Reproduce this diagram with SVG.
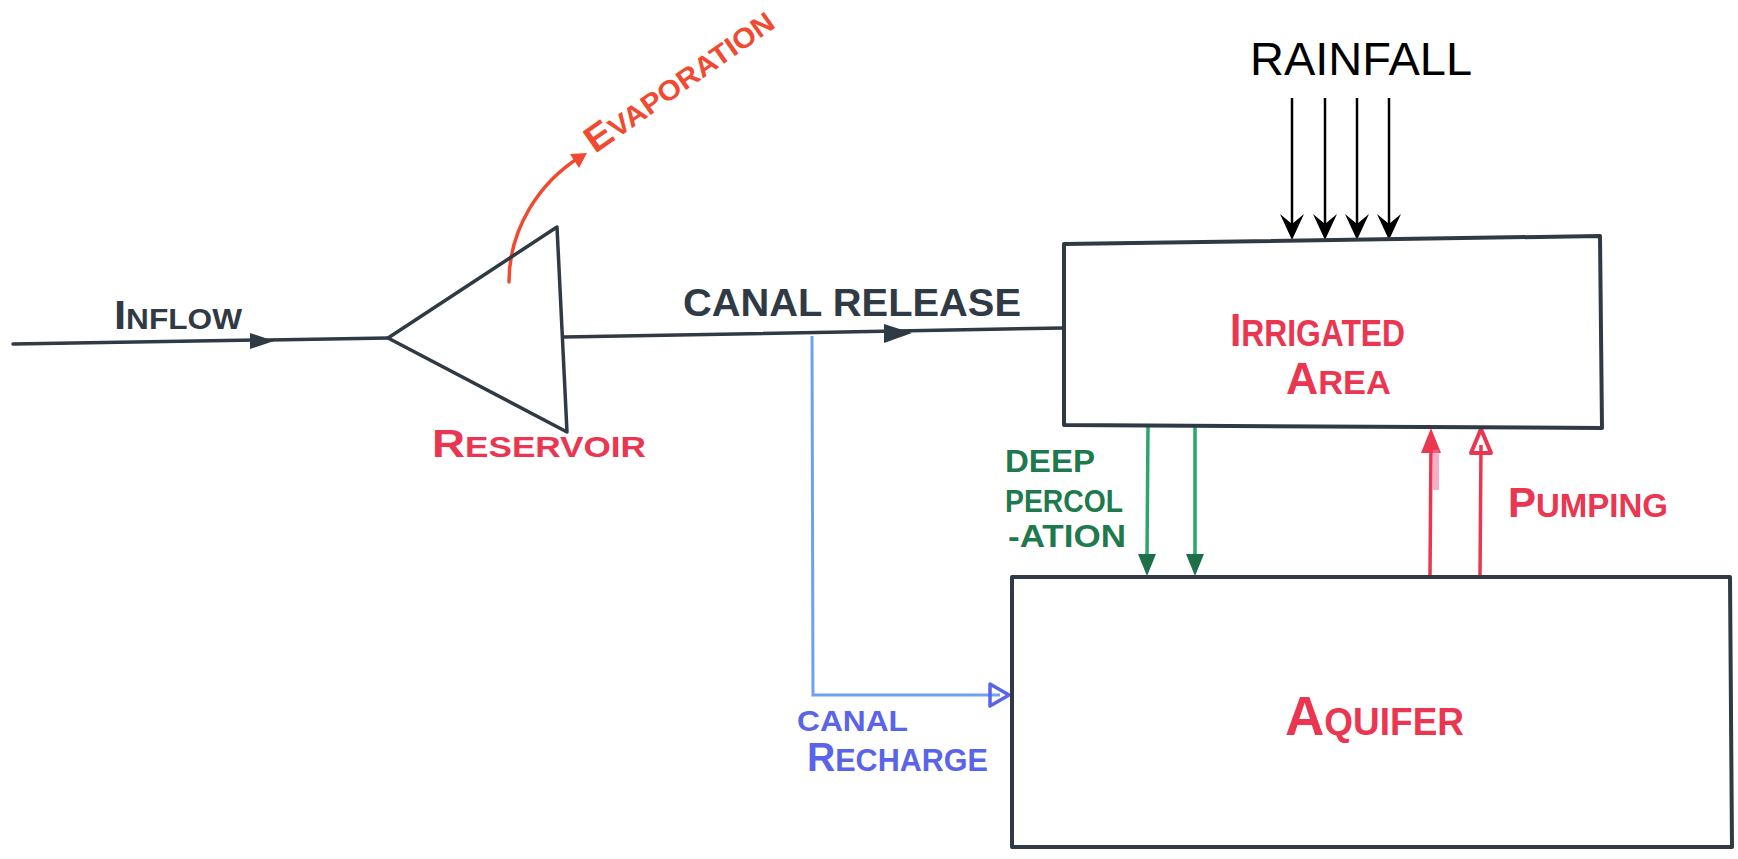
<svg xmlns="http://www.w3.org/2000/svg" width="1738" height="859" viewBox="0 0 1738 859">
<defs>
<style>
.ln{fill:none;stroke:#2f3a44;stroke-width:3.5;stroke-linecap:round;stroke-linejoin:round}
.box{fill:#fff;stroke:#2f3a44;stroke-width:4;stroke-linejoin:round}
.t{font-family:"Liberation Sans",Arial,sans-serif;font-weight:bold}
.dark{fill:#2f3a44}
.red{fill:#ea3650}
.grn{fill:#1e7a4c}
.blu{fill:#5a64ea}
.rain{stroke:#000;stroke-width:2.5;fill:none}
</style>
</defs>
<rect width="1738" height="859" fill="#fff"/>

<g id="connectors">
  <!-- inflow -->
  <path class="ln" d="M13,344 L388,338"/>
  <polygon points="250,333 274,341 250,349" fill="#2f3a44"/>
  <!-- canal release -->
  <path class="ln" d="M564,337 L1064,328"/>
  <polygon points="884,324 912,333 884,343" fill="#2f3a44"/>
  <!-- evaporation -->
  <path d="M509,282 C509,228 540,182 580,157" fill="none" stroke="#f04a30" stroke-width="3.5" stroke-linecap="round"/>
  <polygon points="587,153 570,154 579,168" fill="#f04a30"/>
  <!-- canal recharge -->
  <path d="M812,336 L813,695 L1000,695" fill="none" stroke="#6f9ff7" stroke-width="3"/>
  <path d="M990,684 L1009,695 L990,706 Z" fill="none" stroke="#5a64ea" stroke-width="3.5" stroke-linejoin="round"/>
  <!-- rainfall -->
  <g class="rain">
    <line x1="1292" y1="98" x2="1292" y2="232"/>
    <line x1="1325" y1="98" x2="1325" y2="232"/>
    <line x1="1357" y1="98" x2="1357" y2="232"/>
    <line x1="1389" y1="98" x2="1389" y2="232"/>
  </g>
  <g fill="#000">
    <path d="M1280,214 L1292,240 L1304,214 L1292,224 Z"/>
    <path d="M1313,214 L1325,240 L1337,214 L1325,224 Z"/>
    <path d="M1345,214 L1357,240 L1369,214 L1357,224 Z"/>
    <path d="M1377,214 L1389,240 L1401,214 L1389,224 Z"/>
  </g>
  <!-- deep percolation -->
  <g stroke="#2aa66a" stroke-width="3.5" fill="none">
    <line x1="1148" y1="427" x2="1147" y2="558"/>
    <line x1="1195" y1="427" x2="1195" y2="558"/>
  </g>
  <g fill="#1e6e4a">
    <polygon points="1138,554 1156,554 1147,576"/>
    <polygon points="1186,554 1204,554 1195,576"/>
  </g>
  <!-- pumping -->
  <g stroke="#ea3650" stroke-width="3.5" fill="none">
    <line x1="1430" y1="577" x2="1431" y2="445"/>
    <line x1="1480" y1="577" x2="1481" y2="445"/>
  </g>
  <polygon points="1421,453 1431,428 1441,453" fill="#ea3650"/>
  <path d="M1471,453 L1481,429 L1491,453 Z" fill="none" stroke="#ea3650" stroke-width="4" stroke-linejoin="round"/>
  <rect x="1433" y="450" width="6" height="40" fill="#f07aa0" opacity="0.6"/>
</g>

<g id="inflow-label">
  <text class="t dark" x="114" y="329" font-size="29" textLength="128" lengthAdjust="spacingAndGlyphs"><tspan font-size="40">I</tspan>NFLOW</text>
</g>

<g id="reservoir">
  <polygon class="ln" points="388,338 557,227 567,432"/>
  <text class="t red" x="432" y="457" font-size="30" textLength="214" lengthAdjust="spacingAndGlyphs"><tspan font-size="39">R</tspan>ESERVOIR</text>
</g>

<g id="evaporation-label">
  <text class="t" x="595" y="154" font-size="28" fill="#f04a30" transform="rotate(-35 595 154)" textLength="222" lengthAdjust="spacingAndGlyphs"><tspan font-size="37">E</tspan>VAPORATION</text>
</g>

<g id="canal-release-label">
  <text class="t dark" x="683" y="316" font-size="39" textLength="338" lengthAdjust="spacingAndGlyphs">CANAL RELEASE</text>
</g>

<g id="irrigated-area">
  <polygon class="box" points="1064,244 1600,236 1602,428 1064,425"/>
  <text class="t red" x="1230" y="346" font-size="36" textLength="175" lengthAdjust="spacingAndGlyphs"><tspan font-size="46">I</tspan>RRIGATED</text>
  <text class="t red" x="1286" y="394" font-size="34" textLength="105" lengthAdjust="spacingAndGlyphs"><tspan font-size="44">A</tspan>REA</text>
</g>

<g id="rainfall-label">
  <text x="1250" y="75" font-family="Liberation Sans, Arial, sans-serif" font-size="47" fill="#000">RAINFALL</text>
</g>

<g id="deep-percolation-label">
  <text class="t grn" x="1005" y="472" font-size="32" textLength="90" lengthAdjust="spacingAndGlyphs">DEEP</text>
  <text class="t grn" x="1005" y="512" font-size="32" textLength="118" lengthAdjust="spacingAndGlyphs">PERCOL</text>
  <text class="t grn" x="1008" y="547" font-size="32" textLength="118" lengthAdjust="spacingAndGlyphs">-ATION</text>
</g>

<g id="aquifer">
  <polygon class="box" points="1012,577 1730,577 1732,847 1012,847"/>
  <text class="t red" x="1285" y="735" font-size="38" textLength="179" lengthAdjust="spacingAndGlyphs"><tspan font-size="56">A</tspan>QUIFER</text>
</g>

<g id="pumping-label">
  <text class="t red" x="1508" y="517" font-size="33" textLength="160" lengthAdjust="spacingAndGlyphs"><tspan font-size="42">P</tspan>UMPING</text>
</g>

<g id="canal-recharge-label">
  <text class="t blu" x="797" y="731" font-size="30" textLength="111" lengthAdjust="spacingAndGlyphs">CANAL</text>
  <text class="t blu" x="807" y="771" font-size="32" textLength="181" lengthAdjust="spacingAndGlyphs"><tspan font-size="41">R</tspan>ECHARGE</text>
</g>
</svg>
